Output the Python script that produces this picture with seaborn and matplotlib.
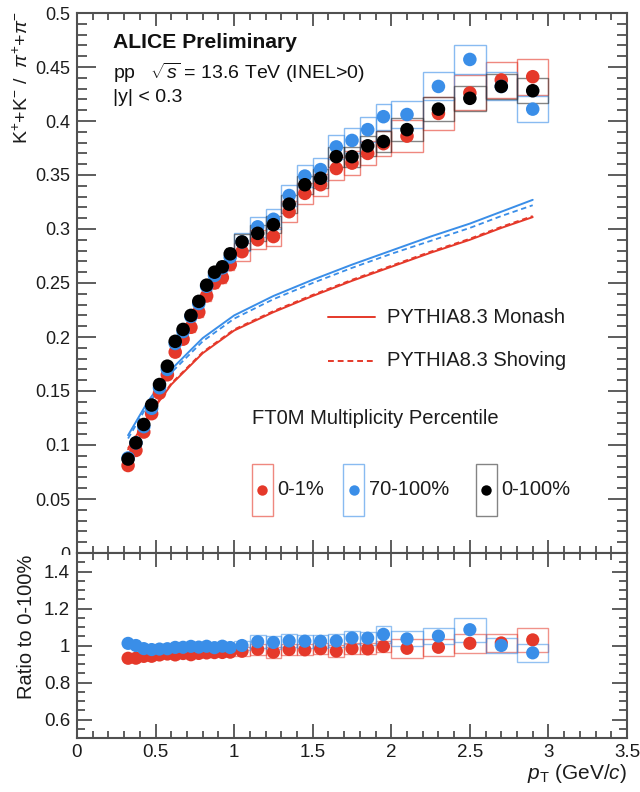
import numpy as np
import pandas as pd
import matplotlib
matplotlib.use("Agg")
import matplotlib.pyplot as plt
from matplotlib.patches import Rectangle
from matplotlib.lines import Line2D
from matplotlib.ticker import MultipleLocator, FormatStrFormatter
import seaborn as sns

# ---------------- data ----------------
pt_edges = [0.30, 0.35, 0.40, 0.45, 0.50, 0.55, 0.60, 0.65, 0.70, 0.75,
            0.80, 0.85, 0.90, 0.95, 1.00, 1.10, 1.20, 1.30, 1.40, 1.50,
            1.60, 1.70, 1.80, 1.90, 2.00, 2.20, 2.40, 2.60, 2.80, 3.00]

# K/pi ratio per multiplicity class
ratio_0_100 = [0.087, 0.102, 0.119, 0.137, 0.156, 0.173, 0.196, 0.207, 0.220, 0.233,
               0.248, 0.260, 0.265, 0.277, 0.288, 0.296, 0.304, 0.323, 0.341, 0.347,
               0.367, 0.367, 0.377, 0.381, 0.392, 0.411, 0.421, 0.432, 0.428]
ratio_0_1 = [0.081, 0.095, 0.112, 0.129, 0.148, 0.165, 0.186, 0.198, 0.209, 0.223,
             0.238, 0.250, 0.255, 0.267, 0.279, 0.290, 0.293, 0.316, 0.333, 0.341,
             0.356, 0.361, 0.370, 0.379, 0.386, 0.407, 0.426, 0.438, 0.441]
ratio_70_100 = [0.088, 0.102, 0.117, 0.134, 0.153, 0.170, 0.194, 0.205, 0.219, 0.231,
                0.247, 0.257, 0.264, 0.274, 0.288, 0.302, 0.309, 0.331, 0.349, 0.355,
                0.376, 0.382, 0.392, 0.404, 0.406, 0.432, 0.457, 0.432, 0.411]

# relative systematic uncertainties (top panel)
sys_0_100 = [0.020] * 14 + [0.025] * 10 + [0.027] * 5
sys_0_1 = [0.020] * 14 + [0.030] * 10 + [0.038] * 5
sys_70_100 = [0.020] * 14 + [0.030] * 10 + [0.030] * 5

# absolute systematic uncertainties on the ratio to 0-100%
dr_0_1 = [0.02] * 14 + [0.025] + [0.03] * 9 + [0.05, 0.045, 0.05, 0.05, 0.065]
dr_70_100 = [0.02] * 14 + [0.025] + [0.035] * 8 + [0.045] + [0.04, 0.045, 0.065, 0.04, 0.05]

# PYTHIA 8.3 predictions
model_pt = [0.325, 0.45, 0.6, 0.8, 1.0, 1.25, 1.5, 1.75, 2.0, 2.25, 2.5, 2.7, 2.9]
monash_70_100 = [0.109, 0.140, 0.170, 0.199, 0.220, 0.238, 0.253, 0.267, 0.280, 0.293, 0.305, 0.316, 0.327]
shoving_70_100 = [0.106, 0.137, 0.167, 0.196, 0.217, 0.235, 0.250, 0.264, 0.277, 0.289, 0.301, 0.312, 0.322]
monash_0_1 = [0.096, 0.126, 0.156, 0.185, 0.206, 0.223, 0.238, 0.252, 0.265, 0.278, 0.290, 0.301, 0.311]
shoving_0_1 = [0.097, 0.127, 0.157, 0.186, 0.207, 0.224, 0.239, 0.253, 0.266, 0.279, 0.291, 0.302, 0.312]

classes = ["0-1%", "70-100%", "0-100%"]
RED, BLUE, BLACK = "#e5392a", "#3a8ee8", "#000000"
colors = {"0-1%": RED, "70-100%": BLUE, "0-100%": BLACK}

# ---------------- derived tables ----------------
edges = np.array(pt_edges)
pt = 0.5 * (edges[1:] + edges[:-1])
width = np.diff(edges)

values = {"0-1%": np.array(ratio_0_1), "70-100%": np.array(ratio_70_100),
          "0-100%": np.array(ratio_0_100)}
rel_sys = {"0-1%": np.array(sys_0_1), "70-100%": np.array(sys_70_100),
           "0-100%": np.array(sys_0_100)}
top = pd.concat([pd.DataFrame({"pt": pt, "value": values[c], "cls": c}) for c in classes],
                ignore_index=True)

to_mb = {c: values[c] / values["0-100%"] for c in ["0-1%", "70-100%"]}
to_mb_sys = {"0-1%": np.array(dr_0_1), "70-100%": np.array(dr_70_100)}
bottom = pd.concat([pd.DataFrame({"pt": pt, "value": to_mb[c], "cls": c})
                    for c in ["0-1%", "70-100%"]], ignore_index=True)

models = pd.concat([
    pd.DataFrame({"pt": model_pt, "value": monash_0_1, "curve": "Monash 0-1%"}),
    pd.DataFrame({"pt": model_pt, "value": monash_70_100, "curve": "Monash 70-100%"}),
    pd.DataFrame({"pt": model_pt, "value": shoving_0_1, "curve": "Shoving 0-1%"}),
    pd.DataFrame({"pt": model_pt, "value": shoving_70_100, "curve": "Shoving 70-100%"}),
], ignore_index=True)

# ---------------- style ----------------
sns.set_theme(style="ticks")
plt.rcParams["font.family"] = ["Liberation Sans", "DejaVu Sans"]
plt.rcParams["mathtext.fontset"] = "custom"
plt.rcParams["mathtext.rm"] = "Liberation Sans"
plt.rcParams["mathtext.it"] = "Liberation Sans:italic"
plt.rcParams["mathtext.bf"] = "Liberation Sans:bold"
FRAME = "#505050"
TXT = "#1c1c1c"

fig = plt.figure(figsize=(6.4, 7.92), dpi=100)
L, R = 77 / 640, 627 / 640
y_split = 1 - 553 / 792
ax = fig.add_axes([L, y_split, R - L, (1 - 13 / 792) - y_split])
axr = fig.add_axes([L, 1 - 738 / 792, R - L, y_split - (1 - 738 / 792)])
ax.set_zorder(0)
axr.set_zorder(3)

# the lower pad hides whatever of the upper pad's labels reaches below it
fig.patches.append(Rectangle((0, 0), L - 0.002, y_split - 2 / 792, transform=fig.transFigure,
                             facecolor="white", edgecolor="none", zorder=1))


def style_axes(a, xmaj, xmin, ymaj, ymin):
    for s in a.spines.values():
        s.set_color(FRAME)
        s.set_linewidth(1.5)
    a.tick_params(which="both", direction="in", top=True, right=True,
                  color=FRAME, width=1.3, labelcolor=TXT)
    a.tick_params(axis="x", which="major", length=xmaj)
    a.tick_params(axis="x", which="minor", length=xmin)
    a.tick_params(axis="y", which="major", length=ymaj)
    a.tick_params(axis="y", which="minor", length=ymin)


# ---------------- top panel ----------------
for c in classes:
    ec = colors[c] if c != "0-100%" else "#333333"
    for x0, w, v, s in zip(pt, width, values[c], rel_sys[c]):
        ax.add_patch(Rectangle((x0 - w / 2, v * (1 - s)), w, 2 * v * s,
                               fill=False, edgecolor=ec, lw=1.0, alpha=0.6, zorder=2))

sns.lineplot(data=models[models.curve.str.startswith("Shoving")], x="pt", y="value",
             hue="curve", palette={"Shoving 0-1%": RED, "Shoving 70-100%": BLUE},
             linestyle=(0, (3, 2)), lw=1.3, legend=False, ax=ax, zorder=3)
sns.lineplot(data=models[models.curve.str.startswith("Monash")], x="pt", y="value",
             hue="curve", palette={"Monash 0-1%": RED, "Monash 70-100%": BLUE},
             lw=1.4, legend=False, ax=ax, zorder=3)

sns.scatterplot(data=top, x="pt", y="value", hue="cls", palette=colors,
                s=95, edgecolor="none", linewidth=0, legend=False, ax=ax, zorder=4)

ax.set_xlim(0, 3.5)
ax.set_ylim(0, 0.5)
ax.xaxis.set_major_locator(MultipleLocator(0.5))
ax.xaxis.set_minor_locator(MultipleLocator(0.1))
ax.yaxis.set_major_locator(MultipleLocator(0.05))
ax.yaxis.set_minor_locator(MultipleLocator(0.01))
ax.yaxis.set_major_formatter(FormatStrFormatter("%g"))
ax.set_xticklabels([])
ax.set_xlabel("")
ax.set_ylabel("")
style_axes(ax, 9.5, 5, 13.5, 7)
ax.tick_params(axis="y", labelsize=13, pad=5)

ax.text(0.065, 0.946, "ALICE Preliminary", transform=ax.transAxes, fontsize=15.2,
        fontweight="bold", va="center", ha="left", color="#111111")
ax.text(0.065, 0.889, r"pp   $\sqrt{s}$ = 13.6 TeV (INEL>0)", transform=ax.transAxes,
        fontsize=14, va="center", ha="left", color="#111111")
ax.text(0.065, 0.843, "|y| < 0.3", transform=ax.transAxes, fontsize=14,
        va="center", ha="left", color="#111111")

# model legend
for fy, ls, lab in [(0.437, "-", "PYTHIA8.3 Monash"), (0.356, (0, (3, 2)), "PYTHIA8.3 Shoving")]:
    ax.add_line(Line2D([0.456, 0.542], [fy, fy], transform=ax.transAxes, color=RED,
                       lw=1.4, linestyle=ls))
    ax.text(0.564, fy, lab, transform=ax.transAxes, fontsize=14.5, va="center",
            ha="left", color=TXT)

ax.text(0.318, 0.25, "FT0M Multiplicity Percentile", transform=ax.transAxes,
        fontsize=14.5, va="center", ha="left", color=TXT)

# multiplicity class legend
for c, bx in [("0-1%", 0.318), ("70-100%", 0.484), ("0-100%", 0.725)]:
    ec = colors[c] if c != "0-100%" else "#333333"
    ax.add_patch(Rectangle((bx, 0.117 - 0.048), 0.038, 0.096, transform=ax.transAxes,
                           fill=False, edgecolor=ec, lw=1.0, alpha=0.6))
    ax.plot([bx + 0.019], [0.117], "o", ms=7.5, color=colors[c], mec="none",
            transform=ax.transAxes)
    ax.text(bx + 0.046, 0.117, c, transform=ax.transAxes, fontsize=14.5,
            va="center", ha="left", color=TXT)

fig.text(0.034, 1 - 11 / 792, r"K$^{+}$+K$^{-}$ /  $\pi^{+}$+$\pi^{-}$", rotation=90,
         fontsize=14, ha="center", va="top", color=TXT)

# ---------------- ratio panel ----------------
for c in ["0-1%", "70-100%"]:
    for x0, w, v, d in zip(pt, width, to_mb[c], to_mb_sys[c]):
        axr.add_patch(Rectangle((x0 - w / 2, v - d), w, 2 * d, fill=False,
                                edgecolor=colors[c], lw=1.0, alpha=0.55, zorder=2))

sns.scatterplot(data=bottom, x="pt", y="value", hue="cls",
                palette={"0-1%": RED, "70-100%": BLUE}, s=90, edgecolor="none",
                linewidth=0, legend=False, ax=axr, zorder=4)

axr.set_xlim(0, 3.5)
axr.set_ylim(0.5, 1.5)
axr.xaxis.set_major_locator(MultipleLocator(0.5))
axr.xaxis.set_minor_locator(MultipleLocator(0.1))
axr.yaxis.set_major_locator(MultipleLocator(0.2))
axr.yaxis.set_minor_locator(MultipleLocator(0.05))
axr.xaxis.set_major_formatter(FormatStrFormatter("%g"))
axr.yaxis.set_major_formatter(FormatStrFormatter("%g"))
style_axes(axr, 10, 5, 11, 5.8)
axr.tick_params(axis="both", labelsize=13.5)
axr.tick_params(axis="x", pad=4)
axr.tick_params(axis="y", pad=5)
axr.set_xlabel(r"$p_{\mathrm{T}}$ (GeV/$c$)", fontsize=15, color=TXT,
               loc="right", labelpad=1)
axr.set_ylabel("")
fig.text(27 / 640, 1 - 627 / 792, "Ratio to 0-100%", rotation=90, fontsize=14.5,
         ha="center", va="center", color=TXT)

fig.savefig("out.png", dpi=100)
